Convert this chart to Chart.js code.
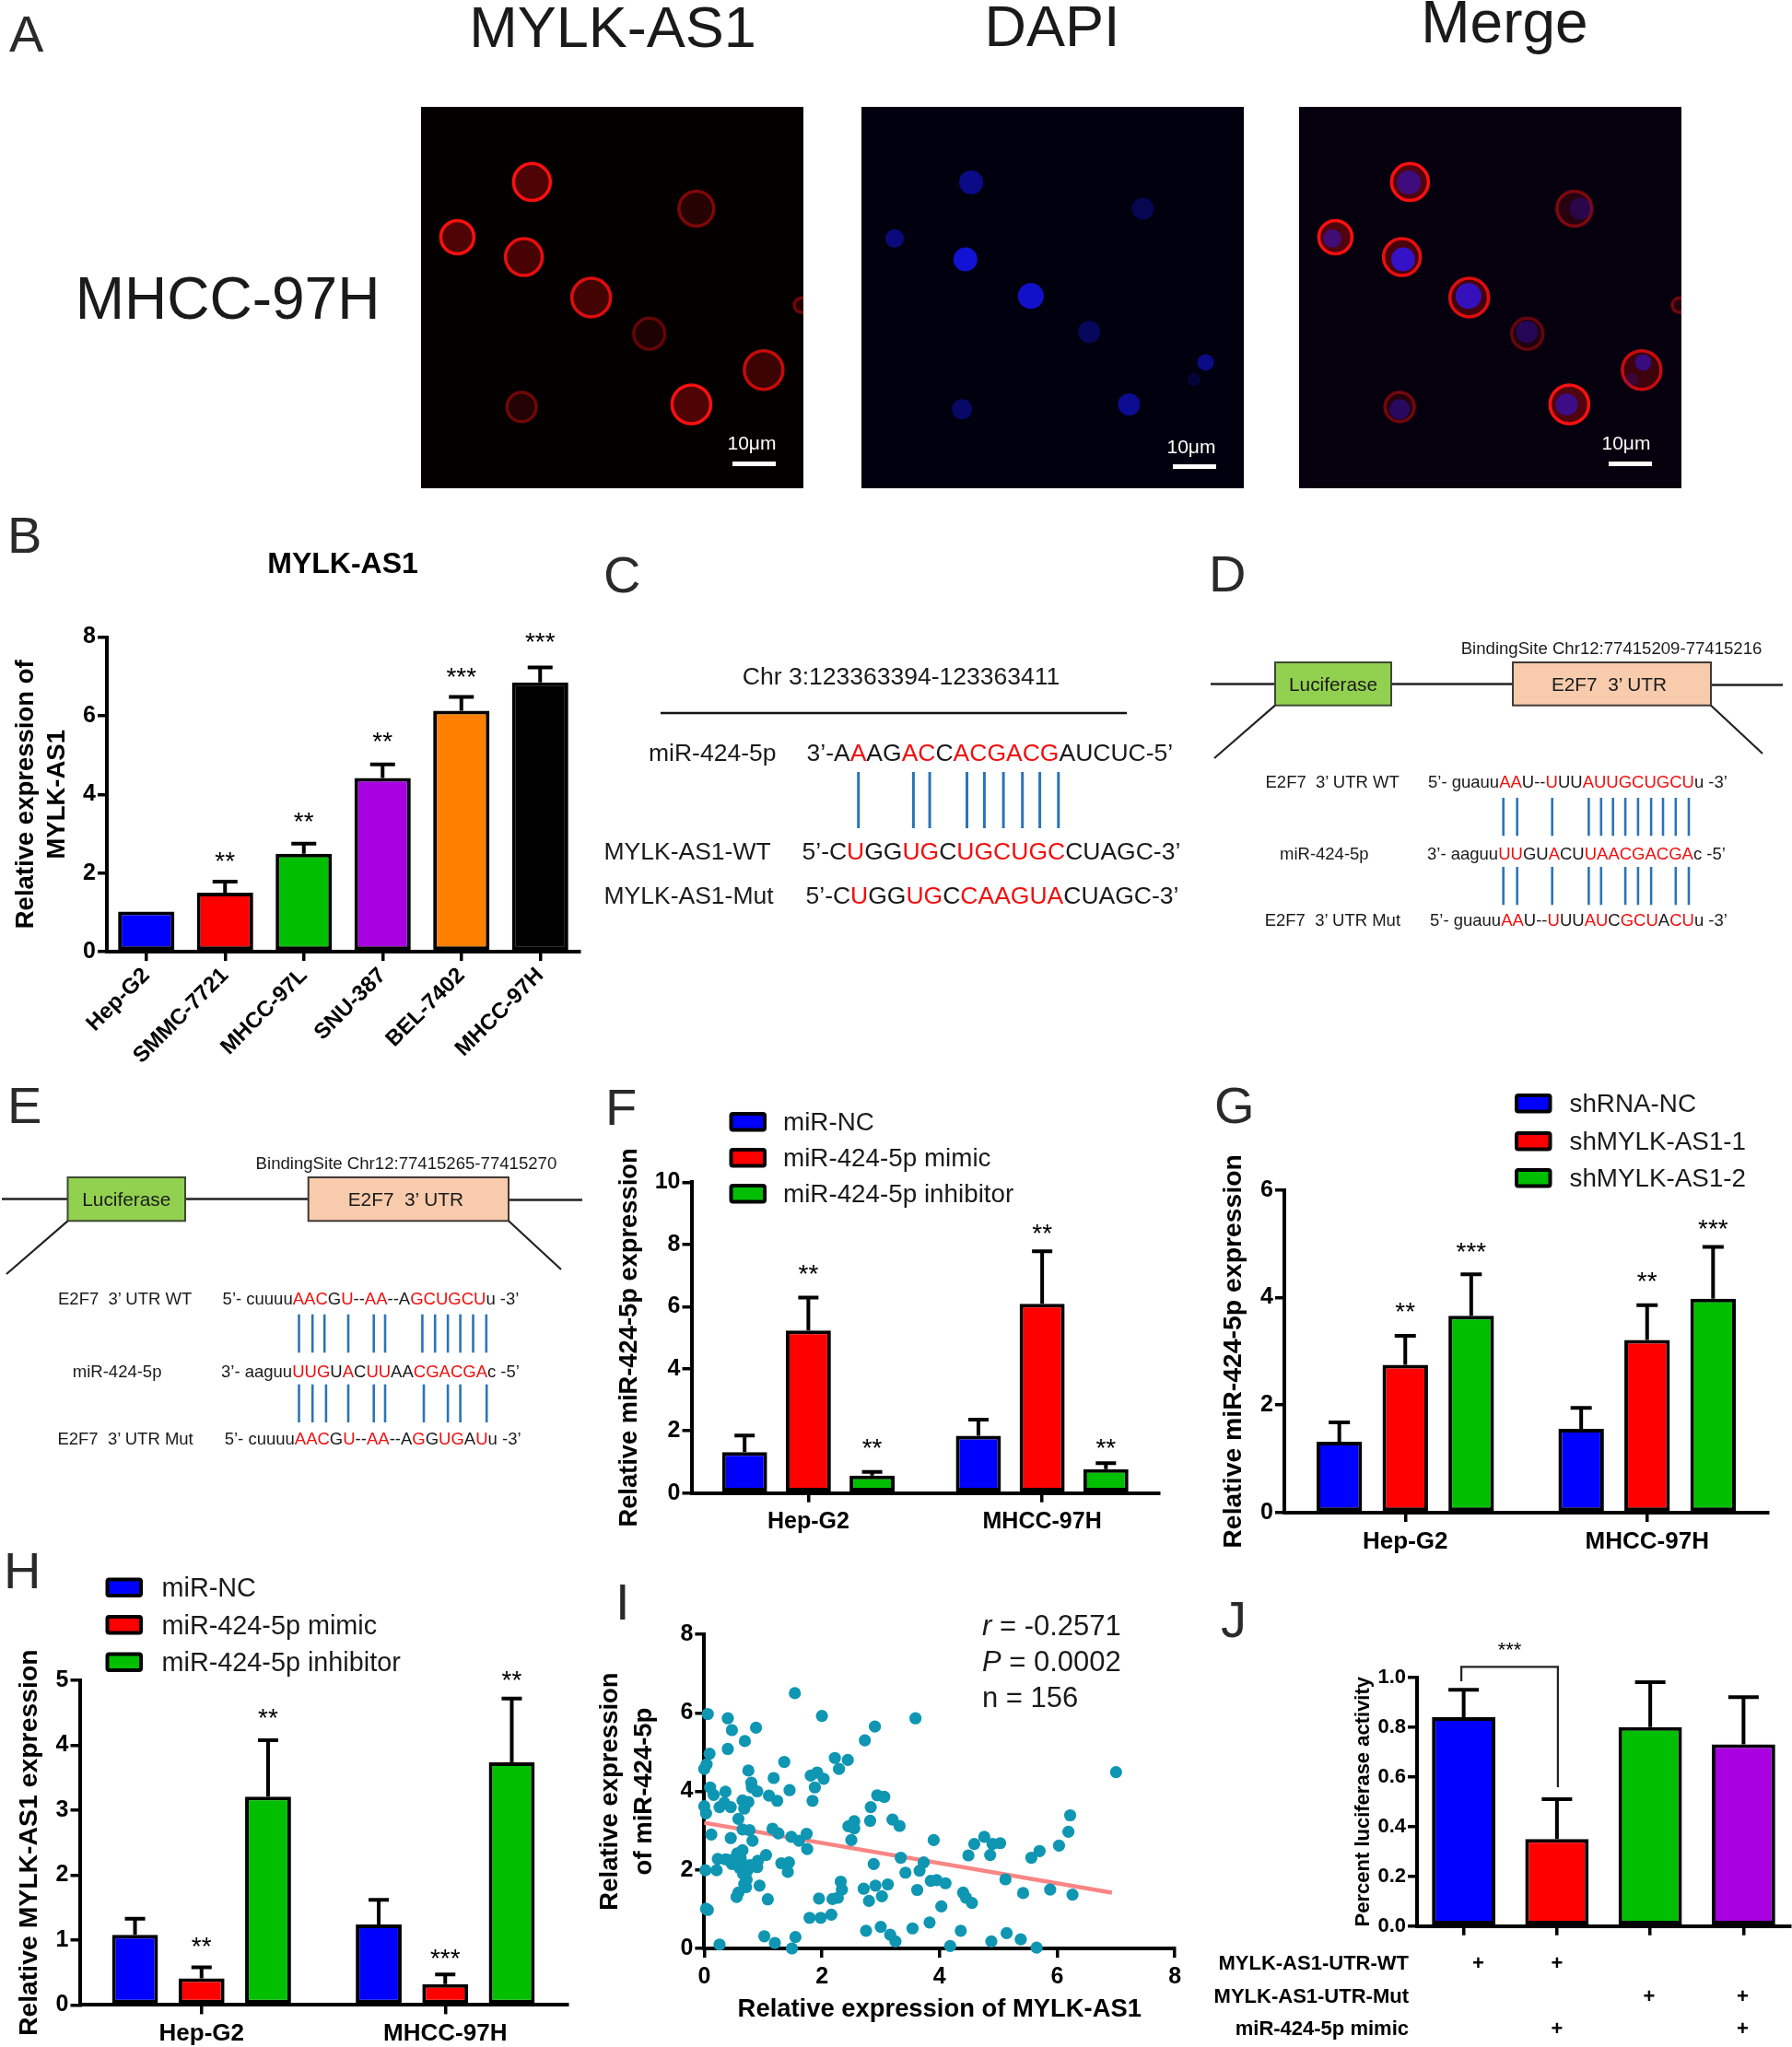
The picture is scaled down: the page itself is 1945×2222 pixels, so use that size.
<!DOCTYPE html>
<html><head><meta charset="utf-8">
<style>
html,body{margin:0;padding:0;background:#fff;width:1945px;height:2222px;overflow:hidden}
canvas{position:absolute;display:block}
svg{position:absolute;left:0;top:0;pointer-events:none}
svg text{font-family:"Liberation Sans",Arial,sans-serif;white-space:pre}
</style>
<script src="https://cdn.jsdelivr.net/npm/chart.js@4/dist/chart.umd.min.js"></script>
</head><body>
<svg id="ink" width="1945" height="2222" xmlns="http://www.w3.org/2000/svg"></svg>
<script>
// ---------- DATA ----------
const BLUE='#0000ff',RED='#ff0000',GREEN='#00bf00',PURPLE='#a800e0',ORANGE='#ff8000',BLACK='#000000';

// Panel A (cell positions in % of the image)
const cellX=[29,72,9.5,26.9,44.5,59.7,89.6,70.7,26.3,99.5];
const cellY=[19.7,26.7,34.2,39.4,50,59.5,69,78,78.7,52];
const cellR=[20,19,18,20,21,17,21,21,16,8];
const cellLevel=[1,.45,1,.9,.85,.35,.75,1,.4,.4];
const nucX=[28.7,73.6,8.7,27.2,44.3,59.6,90,70,26.3,87];
const nucY=[19.8,26.7,34.5,40,49.6,59,67,78,79.3,71.5];
const nucR=[13,12,10,13,14,12,9,12,11,7];
const nucLevel=[.55,.3,.5,.9,.85,.35,.55,.6,.4,.2];

// Panel B
const bCats=['Hep-G2','SMMC-7721','MHCC-97L','SNU-387','BEL-7402','MHCC-97H'];
const bVals=[1.02,1.5,2.49,4.42,6.13,6.85];
const bErr=[null,1.78,2.75,4.76,6.48,7.23];
const bColors=[BLUE,RED,GREEN,PURPLE,ORANGE,BLACK];
const bStars=[[0,1,'**',2.47],[0,2,'**',3.47],[0,3,'**',5.5],[0,4,'***',7.15],[0,5,'***',8.03]];
const yTicksB=[0,2,4,6,8];

// Panel F
const groupCats=['Hep-G2','MHCC-97H'];
const fNC=[1.32,1.84],fNCErr=[1.85,2.36];
const fMimic=[5.23,6.09],fMimicErr=[6.29,7.78];
const fInhib=[.56,.77],fInhibErr=[.68,.96];
const fStars=[[1,0,'**',7.26],[2,0,'**',1.65],[1,1,'**',8.57],[2,1,'**',1.65]];
// Panel G
const gNC=[1.32,1.56],gNCErr=[1.68,1.95];
const gSh1=[2.75,3.21],gSh1Err=[3.29,3.86];
const gSh2=[3.66,3.98],gSh2Err=[4.43,4.94];
const gStars=[[1,0,'**',3.85],[2,0,'***',4.96],[1,1,'**',4.41],[2,1,'***',5.4]];
// Panel H
const hNC=[1.08,1.24],hNCErr=[1.33,1.62];
const hMimic=[.41,.32],hMimicErr=[.58,.47];
const hInhib=[3.21,3.74],hInhibErr=[4.08,4.72];
const hStars=[[1,0,'**',1.0],[2,0,'**',4.52],[1,1,'***',.82],[2,1,'**',5.1]];
// Panel I
const iX=[1.54,.06,.40,.47,.88,2.0,3.59,2.90,2.73,.69,.40,.09,.04,0,2.22,2.44,2.29,1.36,.75,1.18,1.92,1.81,2.03,1.88,.80,.81,.90,.10,.16,.36,1.45,1.10,1.24,1.84,7.0,2.94,3.06,2.83,.26,.34,.45,.65,.75,.68,0,.03,.58,.65,.77,.82,2.82,3.20,3.32,2.55,2.45,2.55,2.50,.12,.45,1.16,1.26,1.48,1.74,1.61,1.75,3.90,4.76,4.59,4.90,5.03,4.49,4.86,6.19,6.22,6.03,5.70,5.56,.65,.23,.36,.55,.47,.58,.71,.65,.91,.90,1.05,.21,.02,1.31,1.44,1.42,2.88,3.34,3.73,3.66,3.42,.70,.68,.94,.71,.58,.55,1.08,.03,.06,2.32,2.34,2.27,2.18,1.95,2.71,2.91,3.12,2.80,3.02,3.62,3.85,3.95,4.10,4.03,4.40,4.45,4.55,5.12,5.42,5.88,6.26,2.16,1.98,1.79,3.83,3.54,3.0,2.75,3.16,3.25,4.36,4.18,4.88,5.14,5.38,5.65,1.02,1.20,.26,1.49,1.55,.52,.6,.74,.62,.72,.66,.42,.78,.56];
const iY=[6.50,5.97,5.86,5.56,5.62,5.92,5.86,5.65,5.30,5.28,5.08,4.96,4.69,4.57,4.85,4.80,4.57,4.75,4.53,4.34,4.48,4.40,4.32,4.10,4.22,4.10,4.00,4.10,3.91,3.99,4.03,3.89,3.76,3.76,4.49,3.90,3.86,3.60,3.60,3.71,3.60,3.77,3.73,3.56,3.62,3.44,3.30,3.03,3.01,2.74,3.25,3.28,3.12,3.24,3.11,3.06,2.76,2.90,2.81,3.05,2.93,2.84,2.92,2.74,2.53,2.76,2.84,2.66,2.66,2.68,2.37,2.38,2.97,3.39,2.62,2.48,2.31,2.50,2.28,2.27,2.35,2.15,2.19,2.11,1.99,2.23,2.07,2.38,1.99,1.99,2.17,2.19,1.95,2.15,2.31,2.19,1.98,1.93,1.84,1.64,1.60,1.56,1.42,1.31,1.25,1.01,.98,1.70,1.50,1.29,1.26,1.27,1.52,1.60,1.63,1.21,1.33,1.49,1.72,1.74,1.66,1.07,1.42,1.29,1.16,1.76,1.41,1.50,1.37,.86,.78,.78,.66,.51,.55,.45,.35,.18,.45,.06,.18,.39,.23,.02,.31,.14,.10,0,.29,2.2,2.05,2.0,2.3,1.75,1.9,2.25,2.12,2.42];
const trendX=[0,6.93],trendY=[3.2,1.42];
// Panel J
const jCats=['WT','WT + mimic','Mut','Mut + mimic'];
const jVals=[.84,.35,.80,.73];
const jErr=[.95,.51,.98,.92];
const jColors=[BLUE,RED,GREEN,PURPLE];
const jStarsLabel='***';
const jBracket={top:1.042,leftEnd:.984,rightEnd:.558,star:1.132};
const jRows=['MYLK-AS1-UTR-WT','MYLK-AS1-UTR-Mut','miR-424-5p mimic'];
const jPlus=[[1,1,0,0],[0,0,1,1],[0,1,0,1]];

// Panels C, D, E text: odd parts are red
const cSeqTop=['3’-A','A','AG','AC','C','ACGACG','AUCUC-5’'];
const cSeqWT=['5’-C','U','GG','UG','C','UGCUGC','CUAGC-3’'];
const cSeqMut=['5’-C','U','GG','UG','C','CAAGUA','CUAGC-3’'];
const dSeqWT=['5’- guauu','AA','U--','U','UU','AUUGCUGCU','u -3’'];
const dSeqMi=['3’- aaguu','UU','GU','A','CU','UAACGACGA','c -5’'];
const dSeqMut=['5’- guauu','AA','U--','U','UU','AU','C','GCU','A','CU','u -3’'];
const eSeqWT=['5’- cuuuu','AAC','G','U','--','AA','--A','GCUGCU','u -3’'];
const eSeqMi=['3’- aaguu','UUG','U','A','C','UU','AA','CGACGA','c -5’'];
const eSeqMut=['5’- cuuuu','AAC','G','U','--','AA','--A','G','G','UG','A','U','u -3’'];

// ---------- SVG helpers ----------
const FONT='"Liberation Sans", Arial, sans-serif';
const ink=document.getElementById('ink');
const NS='http://www.w3.org/2000/svg';
function el(n,a,parent){const e=document.createElementNS(NS,n);for(const k in a)e.setAttribute(k,a[k]);(parent||ink).appendChild(e);return e;}
function T(x,y,s,o={}){const e=el('text',{x,y,'font-size':o.size||20,'font-weight':o.weight||'normal','text-anchor':o.anchor||'start',fill:o.fill||'#1a1a1a','dominant-baseline':o.base||'central'});e.textContent=s;return e;}
function seq(x,y,parts,size){const e=el('text',{x,y,'font-size':size,fill:'#1a1a1a','dominant-baseline':'central'});parts.forEach((p,i)=>{const t=el('tspan',{fill:i%2?'#f01010':'#1a1a1a'},e);t.textContent=p;});}
function L(x1,y1,x2,y2,w,c){el('line',{x1,y1,x2,y2,'stroke-width':w,stroke:c});}
function R(x,y,w,h,fill,stroke,sw,rx){el('rect',{x,y,width:w,height:h,fill,stroke,'stroke-width':sw,rx:rx||0});}

// panel letters
[['A',10,56],['B',8,600],['C',655,643],['D',1312,642],['E',8,1219],['F',657,1221],['G',1318,1219],['H',4,1724],['I',668,1758],['J',1325,1777]]
 .forEach(p=>T(p[1],p[2],p[0],{size:56,fill:'#2a2a2a',base:'alphabetic'}));
// Panel A headings
T(665,51,'MYLK-AS1',{size:63,anchor:'middle',base:'alphabetic'});
T(1142,50,'DAPI',{size:63,anchor:'middle',base:'alphabetic'});
T(1633,46,'Merge',{size:64,anchor:'middle',base:'alphabetic'});
T(247,346,'MHCC-97H',{size:64,anchor:'middle',base:'alphabetic'});
// Panel B title
T(372,611,'MYLK-AS1',{size:32,weight:'bold',anchor:'middle',fill:'#000'});

// Panel C
T(978,734,'Chr 3:123363394-123363411',{size:26.5,anchor:'middle'});
L(717,774,1223,774,2.5,'#111');
T(704,817,'miR-424-5p',{size:26.5});
seq(875.5,817,cSeqTop,26.5);
[931.7,991.4,1009.1,1049.5,1068.4,1089.1,1109.7,1128.6,1148.8].forEach(x=>L(x,838,x,899,3,'#2b74b8'));
T(655.5,924,'MYLK-AS1-WT',{size:26.5}); seq(870.5,924,cSeqWT,26.5);
T(655.5,972,'MYLK-AS1-Mut',{size:26.5}); seq(874.5,972,cSeqMut,26.5);

// Panels D and E diagrams
function construct(o){
  T(o.bindX,o.bindY,o.bind,{size:18.6});
  L(o.x0,o.ly,o.gx1,o.ly,2.5,'#222');L(o.gx2,o.ly,o.px1,o.ly,2.5,'#222');L(o.px2,o.ly2,o.x3,o.ly2,2.5,'#222');
  R(o.gx1,o.t,o.gx2-o.gx1,o.b-o.t,'#92d050','#3c4a32',2);
  R(o.px1,o.t,o.px2-o.px1,o.b-o.t,'#f7cbac','#3f3a36',2);
  L(o.gx1,o.b,o.d1[0],o.d1[1],2.2,'#222');L(o.px2,o.b,o.d2[0],o.d2[1],2.2,'#222');
  T((o.gx1+o.gx2)/2,(o.t+o.b)/2,'Luciferase',{size:20.8,anchor:'middle'});
  T((o.px1+o.px2)/2-3,(o.t+o.b)/2,'E2F7  3’ UTR',{size:20.8,anchor:'middle'});
}
construct({bind:'BindingSite Chr12:77415209-77415216',bindX:1585.7,bindY:703,x0:1314,gx1:1384,gx2:1510,px1:1642,px2:1857,x3:1935,ly:742.5,ly2:743.5,t:719,b:765.7,d1:[1318,823],d2:[1913,818]});
construct({bind:'BindingSite Chr12:77415265-77415270',bindX:277.6,bindY:1262,x0:2,gx1:73.5,gx2:201,px1:334.7,px2:552,x3:632,ly:1301.5,ly2:1302.5,t:1278,b:1325.3,d1:[7,1383],d2:[609,1378]});
const S=18.5;
T(1373.5,848,'E2F7  3’ UTR WT',{size:S}); seq(1550,848,dSeqWT,S);
T(1389,926,'miR-424-5p',{size:S}); seq(1549,926,dSeqMi,S);
T(1372.7,998,'E2F7  3’ UTR Mut',{size:S}); seq(1552,998,dSeqMut,S);
[1631.7,1646.7,1684.7,1724.4,1737.8,1750.7,1764.1,1777.9,1792.1,1805,1818.8,1833].forEach(x=>L(x,866,x,907.3,2.6,'#2b74b8'));
[1631.7,1646.7,1684.7,1724.4,1737.8,1764.1,1777.9,1792.1,1818.8,1833].forEach(x=>L(x,941,x,982.3,2.6,'#2b74b8'));
T(63,1409,'E2F7  3’ UTR WT',{size:S}); seq(241.6,1409,eSeqWT,S);
T(78.8,1488,'miR-424-5p',{size:S}); seq(240,1488,eSeqMi,S);
T(62.4,1561,'E2F7  3’ UTR Mut',{size:S}); seq(243.7,1561,eSeqMut,S);
[324.5,339.2,352.2,378,405.7,418,458.4,472.2,486.1,499.6,513.5,527.8].forEach(x=>L(x,1426.7,x,1468.3,2.6,'#2b74b8'));
[324.5,339.2,353.9,378,405.7,418,460,486.1,499.6,528.2].forEach(x=>L(x,1502.7,x,1544,2.6,'#2b74b8'));

// Legends
function legend(sx,sy,tx,items,size){items.forEach((it,i)=>{R(sx+2,sy[i]+2,36.5,17.5,it[1],'#000',4,2);T(tx,sy[i]+10.5,it[0],{size});});}
const legF=[['miR-NC',BLUE],['miR-424-5p mimic',RED],['miR-424-5p inhibitor',GREEN]];
const legG=[['shRNA-NC',BLUE],['shMYLK-AS1-1',RED],['shMYLK-AS1-2',GREEN]];
legend(791.5,[1207,1246,1285],850,legF,27.8);
legend(1644,[1187,1228,1268],1703.5,legG,27.8);
legend(114.5,[1712.5,1753,1793.5],175.5,legF,28.8);

// Panel I stats
(function(){const a=el('text',{x:1066,y:1764,'font-size':31,fill:'#1a1a1a','dominant-baseline':'central'});a.innerHTML='<tspan font-style="italic">r</tspan> = -0.2571';
const b=el('text',{x:1066,y:1803,'font-size':31,fill:'#1a1a1a','dominant-baseline':'central'});b.innerHTML='<tspan font-style="italic">P</tspan> = 0.0002';
T(1066,1842,'n = 156',{size:31});})();

// Panel J table
const jRowY=[2130,2166.7,2201],jColX=[1604.5,1690,1790,1891.5];
jRows.forEach((r,i)=>{T(1529,jRowY[i],r,{size:22,weight:'bold',anchor:'end',fill:'#000'});
 jPlus[i].forEach((p,j)=>{if(p)T(jColX[j],jRowY[i],'+',{size:22,weight:'bold',anchor:'middle',fill:'#000'});});});

// Panel A scale bars
[[795,501,816,480],[1273,504,1293,484],[1746,501,1765,480]].forEach(b=>{R(b[0],b[1],47,5,'#fff','none',0);T(b[2],b[3],'10μm',{size:21,anchor:'middle',fill:'#fff'});});

// ---------- Chart helpers ----------
Chart.defaults.font.family=FONT;
Chart.defaults.color='#000';
Chart.defaults.animation=false;
const errStarPlugin={id:'errStar',afterDatasetsDraw(c){
  const o=c.options.plugins.errStar||{};if(!o.cap)return;
  const ctx=c.ctx,y=c.scales.y;ctx.save();
  ctx.strokeStyle='#000';ctx.fillStyle='#000';ctx.lineWidth=4;ctx.lineCap='butt';
  c.data.datasets.forEach((d,i)=>{if(!d.errorTop)return;const m=c.getDatasetMeta(i);
    d.errorTop.forEach((e,j)=>{if(e==null)return;const b=m.data[j];const py=y.getPixelForValue(e);
      ctx.beginPath();ctx.moveTo(b.x,y.getPixelForValue(d.data[j]));ctx.lineTo(b.x,py);ctx.moveTo(b.x-o.cap/2,py);ctx.lineTo(b.x+o.cap/2,py);ctx.stroke();});});
  const fs=o.starSize||28;ctx.font=fs+'px '+FONT;ctx.textAlign='center';ctx.textBaseline='alphabetic';
  (o.stars||[]).forEach(s=>{const b=c.getDatasetMeta(s[0]).data[s[1]];ctx.fillText(s[2],b.x,y.getPixelForValue(s[3])+.57*fs);});
  if(o.bracket){const k=o.bracket,m=c.getDatasetMeta(0).data,x0=m[0].x-2.5,x1=m[1].x+1;
    ctx.lineWidth=2.2;ctx.strokeStyle='#222';ctx.beginPath();ctx.moveTo(x0,y.getPixelForValue(k.leftEnd));ctx.lineTo(x0,y.getPixelForValue(k.top));ctx.lineTo(x1,y.getPixelForValue(k.top));ctx.lineTo(x1,y.getPixelForValue(k.rightEnd));ctx.stroke();
    ctx.font='22px '+FONT;ctx.fillText(o.bracketLabel,(x0+x1)/2,y.getPixelForValue(k.star)+.57*22);}
  ctx.restore();}};
function axis(extra){return Object.assign({grid:{display:true,drawOnChartArea:false,drawTicks:true,tickLength:10,lineWidth:3.5,color:'#000',offset:false},border:{display:true,width:4,color:'#000'}},extra);}
function mk(id,c,p,type,data,y,x,plugOpt){
  const cv=document.createElement('canvas');cv.id=id;cv.width=c[2]-c[0];cv.height=c[3]-c[1];
  cv.style.left=c[0]+'px';cv.style.top=c[1]+'px';cv.style.width=cv.width+'px';cv.style.height=cv.height+'px';
  document.body.insertBefore(cv,ink);
  y.afterFit=s=>{s.width=p[0]-c[0];};
  x.afterFit=s=>{s.height=c[3]-p[3];};
  return new Chart(cv,{type,data,plugins:[errStarPlugin],options:{responsive:false,maintainAspectRatio:false,animation:false,
    layout:{autoPadding:false,padding:{top:p[1]-c[1],right:c[2]-p[2],left:0,bottom:0}},
    plugins:{legend:{display:false},title:{display:false},tooltip:{enabled:false},errStar:plugOpt},
    scales:{x,y}}});
}
function yAxis(max,step,title,fs,tfs,lh,cb){
  const t={min:0,max,ticks:{stepSize:step,color:'#000',padding:2,font:{size:tfs,weight:'bold'}},title:{display:true,text:title,color:'#000',padding:0,font:{size:fs,weight:'bold',lineHeight:lh||1.2}}};
  if(cb)t.ticks.callback=cb;return axis(t);}
function xCat(tfs,extra){return axis(Object.assign({type:'category',ticks:{color:'#000',padding:6,font:{size:tfs,weight:'bold'},maxRotation:0,minRotation:0,autoSkip:false}},extra||{}));}
function bar(label,data,err,color,bp,cp){return {label,data,errorTop:err,backgroundColor:color,borderColor:'#000',borderWidth:4,borderSkipped:false,barPercentage:bp,categoryPercentage:cp};}

// Panel A images
function cells(){return {label:'MYLK-AS1',data:cellX.map((x,i)=>({x,y:cellY[i],r:cellR[i]})),
  backgroundColor:cellLevel.map(l=>`rgba(200,10,10,${.38*l})`),borderColor:cellLevel.map(l=>`rgba(255,15,15,${l})`),borderWidth:3.5,order:2};}
function nuclei(c){return {label:'DAPI',data:nucX.map((x,i)=>({x,y:nucY[i],r:nucR[i]})),
  backgroundColor:nucLevel.map(l=>`rgba(${c},${l})`),borderWidth:0,order:1};}
function micro(id,l,datasets,bg){
  const cv=document.createElement('canvas');cv.id=id;cv.width=415;cv.height=414;cv.style.left=l+'px';cv.style.top='116px';cv.style.background=bg;
  document.body.insertBefore(cv,ink);
  new Chart(cv,{type:'bubble',data:{datasets},options:{responsive:false,animation:false,layout:{padding:0,autoPadding:false},
    plugins:{legend:{display:false},tooltip:{enabled:false}},
    scales:{x:{display:false,min:0,max:100},y:{display:false,min:0,max:100,reverse:true}}}});
}
micro('a1',457,[cells()],'#040000');
micro('a2',935,[nuclei('20,20,235')],'#00000e');
micro('a3',1410,[cells(),nuclei('50,20,220')],'#06000e');

// Panel B
mk('b',[11,640,640,1175],[116,691.6,629,1033],'bar',
  {labels:bCats,datasets:[bar('MYLK-AS1',bVals,bErr,bColors,.715,1)]},
  yAxis(8,2,['Relative expression of','MYLK-AS1'],27.5,25,34/27.5),
  axis({type:'category',ticks:{color:'#000',padding:2,font:{size:24,weight:'bold'},maxRotation:45,minRotation:45,autoSkip:false}}),
  {cap:27,stars:bStars});

// Panel F
mk('f',[667,1240,1275,1680],[750.5,1283.3,1258,1620.7],'bar',
  {labels:groupCats,datasets:[bar('miR-NC',fNC,fNCErr,BLUE,.707,.818),bar('miR-424-5p mimic',fMimic,fMimicErr,RED,.707,.818),bar('miR-424-5p inhibitor',fInhib,fInhibErr,GREEN,.707,.818)]},
  yAxis(10,2,'Relative miR-424-5p expression',27.3,25),xCat(25),{cap:22,stars:fStars});

// Panel G
mk('g',[1322,1250,1945,1700],[1394,1291.7,1919,1642],'bar',
  {labels:groupCats,datasets:[bar('shRNA-NC',gNC,gNCErr,BLUE,.69,.818),bar('shMYLK-AS1-1',gSh1,gSh1Err,RED,.69,.818),bar('shMYLK-AS1-2',gSh2,gSh2Err,GREEN,.69,.818)]},
  yAxis(6,2,'Relative miR-424-5p expression',28.4,25),xCat(26),{cap:23,stars:gStars});

// Panel H
mk('h',[15,1780,640,2222],[86.5,1824.1,615.5,2176.4],'bar',
  {labels:groupCats,datasets:[bar('miR-NC',hNC,hNCErr,BLUE,.69,.819),bar('miR-424-5p mimic',hMimic,hMimicErr,RED,.69,.819),bar('miR-424-5p inhibitor',hInhib,hInhibErr,GREEN,.69,.819)]},
  yAxis(5,1,'Relative MYLK-AS1 expression',28.4,25),xCat(26),{cap:22,stars:hStars});

// Panel I
mk('i',[644,1750,1295,2198],[764.4,1774,1275.2,2115],'scatter',
  {datasets:[
    {label:'Samples',data:iX.map((x,k)=>({x,y:iY[k]})),backgroundColor:'#0e96b2',borderColor:'#0e96b2',pointRadius:6.6,pointBorderWidth:0,showLine:false,clip:false,order:1},
    {label:'Linear fit',data:trendX.map((x,k)=>({x,y:trendY[k]})),borderColor:'#f98585',borderWidth:4.5,pointRadius:0,showLine:true,clip:false,order:2}]},
  yAxis(8,2,['Relative expression','of miR-424-5p'],27.5,25,37/27.5),
  axis({type:'linear',min:0,max:8,ticks:{stepSize:2,color:'#000',padding:6,font:{size:25,weight:'bold'}},title:{display:true,text:'Relative expression of MYLK-AS1',color:'#000',padding:0,font:{size:27.4,weight:'bold'}}}),
  {});

// Panel J
mk('j',[1467,1770,1945,2110],[1538,1820.7,1943,2090.7],'bar',
  {labels:jCats,datasets:[bar('Percent luciferase activity',jVals,jErr,jColors,.68,1)]},
  yAxis(1,.2,'Percent luciferase activity',22,22,1.2,v=>Number(v).toFixed(1)),
  axis({type:'category',ticks:{display:false}}),
  {cap:33,bracket:jBracket,bracketLabel:jStarsLabel});
</script>
</body></html>
